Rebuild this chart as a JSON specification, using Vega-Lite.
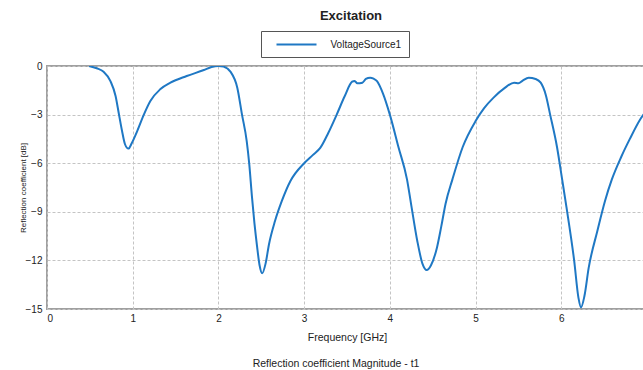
{
  "$schema": "https://vega.github.io/schema/vega-lite/v6.json",
  "background": "white",
  "padding": {"left": 18, "top": 9, "right": 0, "bottom": 5},
  "config": {
    "font": "Liberation Sans",
    "view": {"stroke": null},
    "concat": {"spacing": 0}
  },
  "title": {
    "text": "Reflection coefficient Magnitude - t1",
    "orient": "bottom",
    "anchor": "middle",
    "fontSize": 10.5,
    "fontWeight": "normal",
    "color": "#222222",
    "offset": 15,
    "dx": 3
  },
  "vconcat": [
    {
      "width": 600,
      "height": 243,
      "title": {
        "text": "Excitation",
        "anchor": "middle",
        "fontSize": 13,
        "fontWeight": "bold",
        "color": "#222222",
        "offset": 38,
        "dx": 4
      },
      "view": {"stroke": "#a0a0a0", "strokeWidth": 2},
      "data": {
        "values": [
          {"f": 0.49, "dB": 0.0, "series": "VoltageSource1"},
          {"f": 0.58, "dB": -0.14, "series": "VoltageSource1"},
          {"f": 0.66, "dB": -0.35, "series": "VoltageSource1"},
          {"f": 0.74, "dB": -0.93, "series": "VoltageSource1"},
          {"f": 0.80, "dB": -1.85, "series": "VoltageSource1"},
          {"f": 0.84, "dB": -3.0, "series": "VoltageSource1"},
          {"f": 0.875, "dB": -4.0, "series": "VoltageSource1"},
          {"f": 0.91, "dB": -4.83, "series": "VoltageSource1"},
          {"f": 0.95, "dB": -5.1, "series": "VoltageSource1"},
          {"f": 0.99, "dB": -4.75, "series": "VoltageSource1"},
          {"f": 1.05, "dB": -4.05, "series": "VoltageSource1"},
          {"f": 1.13, "dB": -3.0, "series": "VoltageSource1"},
          {"f": 1.206, "dB": -2.16, "series": "VoltageSource1"},
          {"f": 1.32, "dB": -1.44, "series": "VoltageSource1"},
          {"f": 1.44, "dB": -1.03, "series": "VoltageSource1"},
          {"f": 1.63, "dB": -0.62, "series": "VoltageSource1"},
          {"f": 1.83, "dB": -0.25, "series": "VoltageSource1"},
          {"f": 1.92, "dB": -0.06, "series": "VoltageSource1"},
          {"f": 2.0, "dB": 0.0, "series": "VoltageSource1"},
          {"f": 2.06, "dB": -0.04, "series": "VoltageSource1"},
          {"f": 2.14, "dB": -0.35, "series": "VoltageSource1"},
          {"f": 2.22, "dB": -1.34, "series": "VoltageSource1"},
          {"f": 2.275, "dB": -3.0, "series": "VoltageSource1"},
          {"f": 2.33, "dB": -4.63, "series": "VoltageSource1"},
          {"f": 2.36, "dB": -6.07, "series": "VoltageSource1"},
          {"f": 2.39, "dB": -8.0, "series": "VoltageSource1"},
          {"f": 2.42, "dB": -9.7, "series": "VoltageSource1"},
          {"f": 2.45, "dB": -11.1, "series": "VoltageSource1"},
          {"f": 2.48, "dB": -12.3, "series": "VoltageSource1"},
          {"f": 2.51, "dB": -12.8, "series": "VoltageSource1"},
          {"f": 2.55, "dB": -12.2, "series": "VoltageSource1"},
          {"f": 2.59, "dB": -11.0, "series": "VoltageSource1"},
          {"f": 2.66, "dB": -9.57, "series": "VoltageSource1"},
          {"f": 2.74, "dB": -8.33, "series": "VoltageSource1"},
          {"f": 2.84, "dB": -7.1, "series": "VoltageSource1"},
          {"f": 3.0, "dB": -6.0, "series": "VoltageSource1"},
          {"f": 3.1, "dB": -5.5, "series": "VoltageSource1"},
          {"f": 3.19, "dB": -5.04, "series": "VoltageSource1"},
          {"f": 3.28, "dB": -4.15, "series": "VoltageSource1"},
          {"f": 3.38, "dB": -3.0, "series": "VoltageSource1"},
          {"f": 3.47, "dB": -1.9, "series": "VoltageSource1"},
          {"f": 3.56, "dB": -0.97, "series": "VoltageSource1"},
          {"f": 3.59, "dB": -0.92, "series": "VoltageSource1"},
          {"f": 3.62, "dB": -1.07, "series": "VoltageSource1"},
          {"f": 3.68, "dB": -1.03, "series": "VoltageSource1"},
          {"f": 3.72, "dB": -0.8, "series": "VoltageSource1"},
          {"f": 3.77, "dB": -0.72, "series": "VoltageSource1"},
          {"f": 3.81, "dB": -0.78, "series": "VoltageSource1"},
          {"f": 3.85, "dB": -0.93, "series": "VoltageSource1"},
          {"f": 3.92, "dB": -1.7, "series": "VoltageSource1"},
          {"f": 4.0, "dB": -3.0, "series": "VoltageSource1"},
          {"f": 4.1, "dB": -5.0, "series": "VoltageSource1"},
          {"f": 4.2, "dB": -7.0, "series": "VoltageSource1"},
          {"f": 4.25, "dB": -8.6, "series": "VoltageSource1"},
          {"f": 4.32, "dB": -10.8, "series": "VoltageSource1"},
          {"f": 4.38, "dB": -12.2, "series": "VoltageSource1"},
          {"f": 4.43, "dB": -12.6, "series": "VoltageSource1"},
          {"f": 4.48, "dB": -12.3, "series": "VoltageSource1"},
          {"f": 4.55, "dB": -11.2, "series": "VoltageSource1"},
          {"f": 4.6, "dB": -9.9, "series": "VoltageSource1"},
          {"f": 4.65, "dB": -8.5, "series": "VoltageSource1"},
          {"f": 4.73, "dB": -7.0, "series": "VoltageSource1"},
          {"f": 4.85, "dB": -5.0, "series": "VoltageSource1"},
          {"f": 5.0, "dB": -3.4, "series": "VoltageSource1"},
          {"f": 5.1, "dB": -2.6, "series": "VoltageSource1"},
          {"f": 5.21, "dB": -1.95, "series": "VoltageSource1"},
          {"f": 5.33, "dB": -1.4, "series": "VoltageSource1"},
          {"f": 5.45, "dB": -1.03, "series": "VoltageSource1"},
          {"f": 5.5, "dB": -1.07, "series": "VoltageSource1"},
          {"f": 5.55, "dB": -0.9, "series": "VoltageSource1"},
          {"f": 5.62, "dB": -0.72, "series": "VoltageSource1"},
          {"f": 5.7, "dB": -0.8, "series": "VoltageSource1"},
          {"f": 5.76, "dB": -1.03, "series": "VoltageSource1"},
          {"f": 5.82, "dB": -1.8, "series": "VoltageSource1"},
          {"f": 5.87, "dB": -3.0, "series": "VoltageSource1"},
          {"f": 5.95, "dB": -5.0, "series": "VoltageSource1"},
          {"f": 6.01, "dB": -7.0, "series": "VoltageSource1"},
          {"f": 6.06, "dB": -8.7, "series": "VoltageSource1"},
          {"f": 6.15, "dB": -12.0, "series": "VoltageSource1"},
          {"f": 6.2, "dB": -14.3, "series": "VoltageSource1"},
          {"f": 6.23, "dB": -14.9, "series": "VoltageSource1"},
          {"f": 6.27, "dB": -14.2, "series": "VoltageSource1"},
          {"f": 6.32, "dB": -12.45, "series": "VoltageSource1"},
          {"f": 6.42, "dB": -10.2, "series": "VoltageSource1"},
          {"f": 6.51, "dB": -8.33, "series": "VoltageSource1"},
          {"f": 6.59, "dB": -7.0, "series": "VoltageSource1"},
          {"f": 6.7, "dB": -5.6, "series": "VoltageSource1"},
          {"f": 6.8, "dB": -4.5, "series": "VoltageSource1"},
          {"f": 6.92, "dB": -3.3, "series": "VoltageSource1"},
          {"f": 7.0, "dB": -2.7, "series": "VoltageSource1"}
        ]
      },
      "mark": {"type": "line", "interpolate": "monotone", "strokeWidth": 2, "clip": true},
      "encoding": {
        "x": {
          "field": "f",
          "type": "quantitative",
          "scale": {"domain": [0, 7], "nice": false, "zero": false},
          "axis": {
            "values": [0, 1, 2, 3, 4, 5, 6],
            "title": "Frequency [GHz]",
            "titleFontSize": 10.5,
            "titleFontWeight": "normal",
            "titleColor": "#222222",
            "titlePadding": 9,
            "labelFontSize": 10,
            "labelColor": "#222222",
            "labelPadding": 4,
            "ticks": false,
            "domain": false,
            "grid": true,
            "gridColor": "#c4c4c4",
            "gridDash": [3, 2],
            "gridWidth": 1
          }
        },
        "y": {
          "field": "dB",
          "type": "quantitative",
          "scale": {"domain": [-15, 0], "nice": false, "zero": false},
          "axis": {
            "values": [-15, -12, -9, -6, -3, 0],
            "title": "Reflection coefficient [dB]",
            "titleFontSize": 8,
            "titleFontWeight": "normal",
            "titleColor": "#222222",
            "titlePadding": -2,
            "labelFontSize": 10,
            "labelColor": "#222222",
            "labelPadding": 5,
            "ticks": false,
            "domain": false,
            "grid": true,
            "gridColor": "#c4c4c4",
            "gridDash": [3, 2],
            "gridWidth": 1
          }
        },
        "color": {
          "field": "series",
          "type": "nominal",
          "scale": {"range": ["#1f78c4"]},
          "legend": {
            "title": null,
            "orient": "none",
            "legendX": 214,
            "legendY": -35,
            "symbolType": "M-4,0H4",
            "symbolSize": 100,
            "symbolStrokeWidth": 2,
            "symbolFillColor": "transparent",
            "symbolOffset": 22,
            "labelFontSize": 10,
            "labelColor": "#222222",
            "labelOffset": 28,
            "padding": 7.5,
            "strokeColor": "#555555",
            "fillColor": "white"
          }
        }
      }
    }
  ]
}
